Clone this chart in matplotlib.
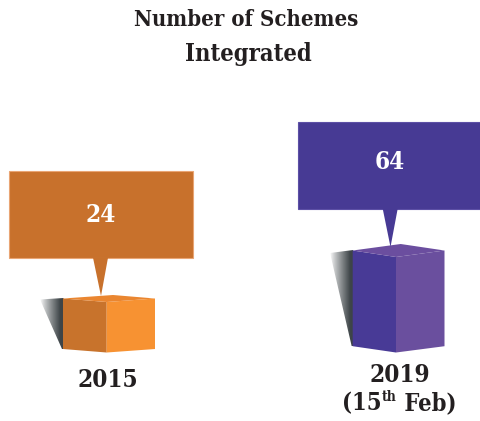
import numpy as np
import matplotlib
matplotlib.use("Agg")
import matplotlib.pyplot as plt
from matplotlib.patches import Polygon, Rectangle

# Data
years = ["2015", "2019"]
schemes = [24, 64]
title_lines = ["Number of Schemes", "Integrated"]

# Style
left_cols = ["#C8732C", "#483A96"]
right_cols = ["#F79232", "#6A4F9E"]
top_cols = ["#EA8630", "#6B4E9F"]
box_cols = ["#C8712C", "#473A94"]
edge_cols = ["#E9A574", "#5D50A6"]
FONT = dict(family="DejaVu Serif", stretch="condensed", weight="bold")

W, H = 480, 421
PX_PER_UNIT = 1.125       # vertical pixels for one scheme
ZERO_PY = 329.0           # pixel row of value 0
BASE_VALUE = -20.9        # cube base sits here on the value scale

fig = plt.figure(figsize=(W / 100, H / 100), dpi=100, facecolor="white")
ax = fig.add_axes([0, 0, 1, 1])
ax.axis("off")

def off(v, dpx):
    """value v moved up by dpx pixels, expressed on the value axis"""
    return v + dpx / PX_PER_UNIT

geom = [
    dict(xl=63, xm=106.7, xr=155, top_side=3.5, bx=113, back=7, bot=3.5,
         sx=40, s_top=2.5, bl=8.5, br=193, tl=93, tr=108, tip_x=101, tip=6, lab=0),
    dict(xl=352.7, xm=396, xr=444.5, top_side=6.5, bx=400.7, back=13, bot=6.3,
         sx=330, s_top=4, bl=298, br=481, tl=382.7, tr=397.7, tip_x=390.5, tip=10, lab=4),
]

for v, g, cl, cr, ct, cb, ce in zip(schemes, geom, left_cols, right_cols, top_cols, box_cols, edge_cols):
    # soft shadow to the left of the cube
    xs = np.linspace(0, 1, 64)
    grad = np.ones((2, 64, 4))
    grad[..., 0] = 0.24
    grad[..., 1] = 0.27
    grad[..., 2] = 0.28
    grad[..., 3] = np.minimum(1.0, 1.15 * xs ** 0.85)
    im = ax.imshow(grad, extent=(g["sx"], g["xl"] + 0.5, off(BASE_VALUE, g["bot"]), off(v, g["top_side"])),
                   aspect="auto", interpolation="bilinear", zorder=1)
    clip = Polygon([(g["sx"], off(v, g["s_top"])), (g["xl"] + 0.5, off(v, g["top_side"] + 0.5)),
                    (g["xl"] + 0.5, off(BASE_VALUE, g["bot"])), (g["xl"] - 1, off(BASE_VALUE, g["bot"]))],
                   transform=ax.transData)
    im.set_clip_path(clip)

    # cube faces
    ax.add_patch(Polygon([(g["xl"], off(v, g["top_side"])), (g["xm"], v), (g["xm"], BASE_VALUE),
                          (g["xl"], off(BASE_VALUE, g["bot"]))], fc=cl, ec="none", zorder=2))
    ax.add_patch(Polygon([(g["xm"], v), (g["xr"], off(v, g["top_side"])), (g["xr"], off(BASE_VALUE, g["bot"])),
                          (g["xm"], BASE_VALUE)], fc=cr, ec="none", zorder=2))
    ax.add_patch(Polygon([(g["xl"], off(v, g["top_side"])), (g["bx"], off(v, g["back"])),
                          (g["xr"], off(v, g["top_side"])), (g["xm"], v)], fc=ct, ec="none", zorder=2))

    # callout
    tip = off(v, g["tip"])
    bottom = off(v, g["tip"] + 38)
    top = off(v, g["tip"] + 125.5)
    ax.add_patch(Rectangle((g["bl"], bottom), g["br"] - g["bl"], top - bottom, fc=cb, ec=ce, lw=0.8, zorder=3))
    ax.add_patch(Polygon([(g["tl"], bottom + 0.3), (g["tr"], bottom + 0.3), (g["tip_x"], tip)],
                         fc=cb, ec="none", zorder=4))
    ax.text(g["tip_x"] - 0.5, off((top + bottom) / 2 - 1, g["lab"]), str(v), color="white", fontsize=17.5,
            ha="center", va="center", zorder=5, **FONT)

ax.set_xlim(0, W)
ax.set_ylim((ZERO_PY - H) / PX_PER_UNIT, ZERO_PY / PX_PER_UNIT)

def fy(p):
    return 1 - p / H

TXT = "#231F20"
ax.text(246 / W, fy(20.5), title_lines[0], transform=ax.transAxes, fontsize=15.8, color=TXT,
        ha="center", va="center", **FONT)
ax.text(248.5 / W, fy(54), title_lines[1], transform=ax.transAxes, fontsize=17, color=TXT,
        ha="center", va="center", **FONT)
ax.text(108 / W, fy(380), years[0], transform=ax.transAxes, fontsize=17.5, color=TXT,
        ha="center", va="center", **FONT)
ax.text(400 / W, fy(375), years[1], transform=ax.transAxes, fontsize=17.5, color=TXT,
        ha="center", va="center", **FONT)

# "(15th Feb)" with a raised "th"
parts = [("(15", 17, 403), ("th", 10, 397), (" Feb)", 17, 403)]
r = fig.canvas.get_renderer()
items = [ax.text(0, fy(p), s.replace(" ", "\u00a0"), transform=ax.transAxes, fontsize=fs, color=TXT,
                 ha="left", va="center", **FONT) for s, fs, p in parts]
ws = [t.get_window_extent(r).width for t in items]
x = 399.5 - sum(ws) / 2
for t, w in zip(items, ws):
    t.set_x(x / W)
    x += w

fig.savefig("out.png", dpi=100, facecolor="white")
